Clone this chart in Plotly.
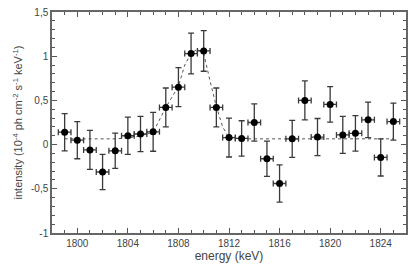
import plotly.graph_objects as go

energy = list(range(1799, 1826))
intensity = [0.14, 0.05, -0.06, -0.31, -0.07, 0.10, 0.12, 0.145, 0.42, 0.65, 1.03, 1.06,
             0.42, 0.08, 0.07, 0.25, -0.16, -0.44, 0.065, 0.50, 0.085, 0.455, 0.11, 0.127,
             0.28, -0.145, 0.26]
err_y = [0.21, 0.21, 0.22, 0.20, 0.20, 0.21, 0.20, 0.22, 0.22, 0.22, 0.23, 0.23, 0.22,
         0.22, 0.20, 0.21, 0.20, 0.21, 0.21, 0.22, 0.21, 0.20, 0.21, 0.20, 0.20, 0.21, 0.21]
err_x = [0.5] * len(energy)

model_x = [1799, 1803, 1804, 1805, 1806, 1806.5, 1807, 1807.5, 1808, 1808.5, 1809, 1809.5,
           1810, 1810.5, 1811, 1811.5, 1812, 1813, 1825]
model_y = [0.065, 0.065, 0.075, 0.10, 0.14, 0.28, 0.42, 0.54, 0.66, 0.90, 1.03, 1.08,
           1.03, 0.72, 0.43, 0.20, 0.075, 0.065, 0.065]

y_tickvals = [-1, -0.5, 0, 0.5, 1, 1.5]
y_ticktext = ["-1", "-0,5", "0", "0,5", "1", "1,5"]
x_tickvals = [1800, 1804, 1808, 1812, 1816, 1820, 1824]

fig = go.Figure()
fig.add_trace(go.Scatter(
    x=model_x, y=model_y, mode="lines",
    line=dict(color="#555555", width=1, dash="dot"),
    hoverinfo="skip", showlegend=False))
fig.add_trace(go.Scatter(
    x=energy, y=intensity, mode="markers",
    marker=dict(color="black", size=7),
    error_y=dict(type="data", array=err_y, color="#3a3a3a", thickness=1.3, width=3),
    error_x=dict(type="data", array=err_x, color="#3a3a3a", thickness=1.3, width=3),
    showlegend=False))

font = dict(family="Liberation Sans, Arial, sans-serif", size=10, color="#444444")
fig.update_layout(
    width=415, height=272,
    margin=dict(l=52, r=9, t=12, b=39),
    paper_bgcolor="white", plot_bgcolor="white",
    font=font,
    xaxis=dict(
        range=[1798, 1826], tickvals=x_tickvals, ticks="inside", ticklen=5,
        tickcolor="#555555", showline=True, linecolor="#666666", linewidth=1.5,
        mirror="allticks", showgrid=False, zeroline=False, automargin=False,
        minor=dict(dtick=1, ticks="inside", ticklen=3, tickcolor="#555555", showgrid=False),
        title=dict(text="energy (keV)", font=dict(size=12, color="#444444"), standoff=4),
        tickfont=dict(size=10),
    ),
    yaxis=dict(
        range=[-1, 1.5], tickvals=y_tickvals, ticktext=y_ticktext, ticks="inside", ticklen=5,
        tickcolor="#555555", showline=True, linecolor="#666666", linewidth=1.5,
        mirror="allticks", showgrid=False, zeroline=False, automargin=False,
        minor=dict(tickvals=[v / 10 for v in range(-10, 16)], ticks="inside", ticklen=3,
                   tickcolor="#555555", showgrid=False),
        title=dict(text="intensity (10<sup>-4</sup> ph cm<sup>-2</sup> s<sup>-1</sup> keV<sup>-1</sup>)",
                   font=dict(size=11, color="#444444"), standoff=6),
        tickfont=dict(size=10),
    ),
)

fig.write_html("out.html", config={"displayModeBar": False},
               post_script="document.body.style.margin='0';")
